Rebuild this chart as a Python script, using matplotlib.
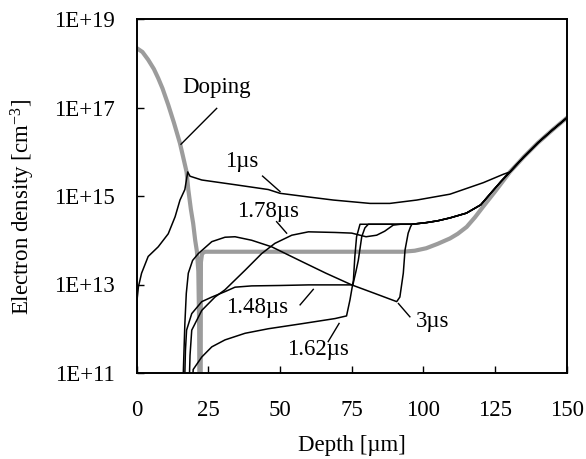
import numpy as np
import matplotlib
matplotlib.use("Agg")
import matplotlib.pyplot as plt

plt.rcParams["font.family"] = ["Liberation Serif", "DejaVu Serif"]
plt.rcParams["mathtext.fontset"] = "custom"
plt.rcParams["mathtext.rm"] = "Liberation Serif"
plt.rcParams["mathtext.it"] = "Liberation Serif:italic"

FS = 16.5

# ---- data: depth [um] and electron density [cm^-3] ----
doping_x = [0, 2, 4, 6, 7.5, 9, 11, 13, 15.1, 17.4, 18.0, 18.9, 19.7, 20.4, 21.0, 21.5,
            21.8, 21.9, 22.3, 22.4, 22.8, 23.8, 93, 97, 101, 105, 109.3, 112, 115.1, 118,
            120.9, 125, 130.2, 135, 140, 145, 150]
doping_n = [2.2e18, 1.8e18, 1.2e18, 7.4e17, 4.6e17, 2.7e17, 1.15e17, 4.5e16, 1.55e16, 3.5e15,
            1.4e15, 5.0e14, 2.4e14, 1.0e14, 5.6e13, 2.0e13, 1.0e12, 1.0e10, 1.0e10, 3.2e13,
            5.0e13, 5.5e13, 5.5e13, 5.8e13, 6.6e13, 8.3e13, 1.1e14, 1.4e14, 2.0e14, 3.3e14,
            5.8e14, 1.26e15, 3.5e15, 7.6e15, 1.6e16, 3.1e16, 5.8e16]

# shared high-injection tail towards the back side
tail_x = [96, 101, 105, 109.3, 115, 120, 124, 127, 130.2, 135, 140, 145, 150]
tail_n = [2.3e14, 2.5e14, 2.75e14, 3.2e14, 4.1e14, 6.3e14, 1.26e15, 2.1e15, 3.5e15,
          7.6e15, 1.6e16, 3.1e16, 5.8e16]

t1_x = [0, 0.2, 0.6, 1.7, 4.0, 7.5, 11.0, 13.4, 15.1, 16.8, 17.8, 18.6, 22.7, 34.3, 45.9,
        50, 60, 68.6, 81.4, 88.3, 97.7, 109.3, 120.9, 127.9]
t1_n = [1.6e12, 5.0e12, 8.9e12, 1.8e13, 4.3e13, 7.1e13, 1.4e14, 3.4e14, 8.1e14, 1.4e15,
        3.5e15, 2.8e15, 2.3e15, 1.8e15, 1.4e15, 1.15e15, 9.5e14, 8.1e14, 6.8e14, 6.8e14,
        8.1e14, 1.1e15, 2.0e15, 3.1e15]

t148_x = [16.6, 17.0, 17.4, 19.2, 22.7, 26.2, 30.8, 34.3, 40.1, 50, 60, 75.4, 76.5, 77.3,
          78.5, 79.6, 80.8]
t148_n = [3e10, 3.2e11, 9.3e11, 2.2e12, 4.1e12, 5.2e12, 6.9e12, 8.7e12, 9.3e12, 9.5e12,
          9.8e12, 9.8e12, 2.0e13, 3.5e13, 1.2e14, 1.9e14, 2.3e14]

t162_x = [19.3, 19.7, 22.7, 26.2, 30.8, 37.8, 45.9, 57.6, 69.2, 73.2, 74.4, 75.6, 76.1,
          76.7, 77.9]
t162_n = [3e10, 1.2e11, 2.3e11, 3.9e11, 5.6e11, 7.9e11, 1.0e12, 1.3e12, 1.7e12, 1.95e12,
          4.5e12, 1.26e13, 4.3e13, 1.2e14, 2.3e14]

t178_x = [18.2, 18.6, 19.2, 22.7, 27.3, 30.8, 37.8, 43.6, 48.2, 54.1, 59.9, 69.2, 75, 80,
          83.7, 86.5, 89.5, 92]
t178_n = [3e10, 2.5e11, 9.3e11, 2.6e12, 5.2e12, 7.6e12, 2.1e13, 5.0e13, 8.5e13, 1.3e14,
          1.55e14, 1.5e14, 1.45e14, 1.2e14, 1.3e14, 1.6e14, 2.2e14, 2.3e14]

t3_x = [16.0, 16.5, 16.8, 17.3, 18.0, 19.5, 21.5, 26.2, 30.8, 34.3, 40.1, 47.1, 57.6, 66,
        75, 83, 90.7, 91.8, 93.0, 93.6, 94.7, 95.5]
t3_n = [3e10, 3.2e11, 1.3e12, 6.3e12, 1.8e13, 3.5e13, 5.0e13, 9.3e13, 1.17e14, 1.2e14,
        1.0e14, 7.1e13, 3.3e13, 1.8e13, 9.8e12, 6.3e12, 4.1e12, 5.2e12, 1.8e13, 6.0e13,
        1.45e14, 2.0e14]

x_ticks = [0, 25, 50, 75, 100, 125, 150]
y_ticks = [1e11, 1e13, 1e15, 1e17, 1e19]
y_tick_labels = ["1E+11", "1E+13", "1E+15", "1E+17", "1E+19"]

# ---- annotation layout (text anchor, leader start, leader end) ----
labels = [
    ("Doping", (27.7, 10**17.32), (27.9, 10**16.98), (15.45, 10**16.17)),
    ("1µs", (36.6, 10**15.66), (43.9, 10**15.45), (50.0, 10**15.10)),
    ("1.78µs", (45.9, 10**14.53), (48.8, 10**14.42), (52.3, 10**14.16)),
    ("1.48µs", (41.9, 10**12.35), (57.0, 10**12.54), (61.6, 10**12.89)),
    ("1.62µs", (63.4, 10**11.41), (66.8, 10**11.71), (70.6, 10**12.12)),
    ("3µs", (103.1, 10**12.03), (91.3, 10**12.57), (95.3, 10**12.27)),
]

W, H = 586, 459
fig = plt.figure(figsize=(W / 100, H / 100), dpi=100)
ax = fig.add_axes([136.7 / W, 1 - 373 / H, 430 / W, 354 / H])

ax.plot(doping_x, doping_n, color="#9c9c9c", lw=3.0, solid_joinstyle="round", zorder=2)

def with_tail(xs, ns):
    return xs + tail_x, ns + tail_n

black = dict(color="black", lw=1.1, zorder=3)
ax.plot(t1_x + tail_x[8:], t1_n + tail_n[8:], **black)
for xs, ns in [(t148_x, t148_n), (t162_x, t162_n), (t178_x, t178_n), (t3_x, t3_n)]:
    cx, cn = with_tail(xs, ns)
    ax.plot(cx, cn, **black)

for text, tpos, p0, p1 in labels:
    ax.text(tpos[0], tpos[1], text, ha="center", va="baseline", fontsize=FS, zorder=5)
    ax.plot([p0[0], p1[0]], [p0[1], p1[1]], color="black", lw=1.0, zorder=4)

ax.set_yscale("log")
ax.set_xlim(0, 150)
ax.set_ylim(1e11, 1e19)
ax.set_xticks(x_ticks)
ax.set_xticklabels([str(v) for v in x_ticks])
ax.set_yticks(y_ticks)
ax.set_yticklabels(y_tick_labels)
ax.yaxis.set_minor_locator(matplotlib.ticker.NullLocator())
ax.tick_params(axis="both", direction="in", length=5, width=1.0, labelsize=FS)
ax.tick_params(axis="y", pad=15.5)
ax.tick_params(axis="x", pad=19.5)
for s in ax.spines.values():
    s.set_linewidth(1.4)

fig.text(351.7 / W, 1 - 446 / H, "Depth [µm]", ha="center", va="center", fontsize=FS)
fig.text(23 / W, 1 - 207 / H, r"Electron density [cm$^{\mathrm{-3}}$]", ha="center",
         va="center", rotation=90, fontsize=FS)

fig.savefig("out.png", dpi=100)
